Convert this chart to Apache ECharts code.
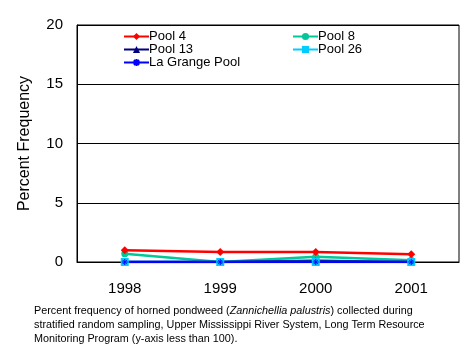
<!DOCTYPE html>
<html><head><meta charset="utf-8">
<script src="https://cdn.jsdelivr.net/npm/echarts@6/dist/echarts.min.js"></script>
<style>html,body{margin:0;padding:0;background:#fff}#c{width:468px;height:360px}</style>
</head><body><div id="c"></div>
<script>
var categories = ['1998', '1999', '2000', '2001'];
var pool4 = [1.0, 0.85, 0.85, 0.65];
var pool8 = [0.7, 0.0, 0.45, 0.15];
var pool13 = [0.0, 0.0, 0.1, 0.0];
var pool26 = [0.0, 0.0, 0.0, 0.0];
var laGrange = [0.0, 0.0, 0.0, 0.0];
var yTicks = [0, 5, 10, 15, 20];

var FONT = '"Liberation Sans", Arial, sans-serif';
var asterisk = 'path://M5,0L5,10M0,5L10,5M1.5,1.5L8.5,8.5M8.5,1.5L1.5,8.5';

function mk(name, data, color, symbol, size, extra) {
  var s = {
    name: name, type: 'line', data: data, symbol: symbol, symbolSize: size,
    lineStyle: {color: color, width: 2.5}, itemStyle: {color: color},
    emphasis: {disabled: true}, animation: false
  };
  if (extra) Object.assign(s, extra);
  return s;
}

var legendText = {fontSize: 13, color: '#000', padding: [0,0,0,-5], fontFamily: FONT};
var chart = echarts.init(document.getElementById('c'));
chart.setOption({
  animation: false,
  textStyle: {fontFamily: FONT},
  grid: {left: 77, right: 9, top: 25, bottom: 98, show: true, borderColor: '#000', borderWidth: 1, containLabel: false},
  title: {
    left: 29, top: 299,
    text: 'Percent frequency of horned pondweed ({i|Zannichellia palustris}) collected during\nstratified random sampling, Upper Mississippi River System, Long Term Resource\nMonitoring Program (y-axis less than 100).',
    textStyle: {fontFamily: FONT, fontSize: 10.8, fontWeight: 'normal', color: '#000', lineHeight: 14,
      rich: {i: {fontStyle: 'italic', fontFamily: FONT, fontSize: 10.8, lineHeight: 14}}}
  },
  legend: [
    {data: ['Pool 4', 'Pool 13', 'La Grange Pool'], orient: 'vertical', left: 123, top: 30, itemGap: 0,
     itemWidth: 25, itemHeight: 9, textStyle: legendText, padding: 0},
    {data: ['Pool 8', 'Pool 26'], orient: 'vertical', left: 292, top: 30, itemGap: 0,
     itemWidth: 25, itemHeight: 9, textStyle: legendText, padding: 0}
  ],
  xAxis: {
    type: 'category', data: categories, boundaryGap: true,
    axisLine: {lineStyle: {color: '#000', width: 1}},
    axisTick: {inside: true, length: 4, lineStyle: {color: '#000'}},
    axisLabel: {fontSize: 15, color: '#000', margin: 19, fontFamily: FONT}
  },
  yAxis: {
    type: 'value', min: yTicks[0], max: yTicks[yTicks.length - 1], interval: 5,
    name: 'Percent Frequency', nameLocation: 'middle', nameGap: 44,
    nameTextStyle: {fontSize: 16, color: '#000', fontFamily: FONT},
    axisLine: {show: true, lineStyle: {color: '#000'}},
    axisTick: {show: false},
    splitLine: {lineStyle: {color: '#000', width: 1}},
    axisLabel: {fontSize: 15, color: '#000', margin: 14, fontFamily: FONT}
  },
  series: [
    mk('Pool 8', pool8, '#00c896', 'circle', 7),
    mk('Pool 13', pool13, '#000080', 'triangle', 7),
    mk('Pool 26', pool26, '#00ccff', 'rect', 8),
    mk('La Grange Pool', laGrange, '#0000ff', asterisk, 6, {itemStyle: {color: '#0000ff', borderColor: '#0000ff', borderWidth: 1}}),
    mk('Pool 4', pool4, '#ff0000', 'diamond', 8)
  ]
});
</script></body></html>
